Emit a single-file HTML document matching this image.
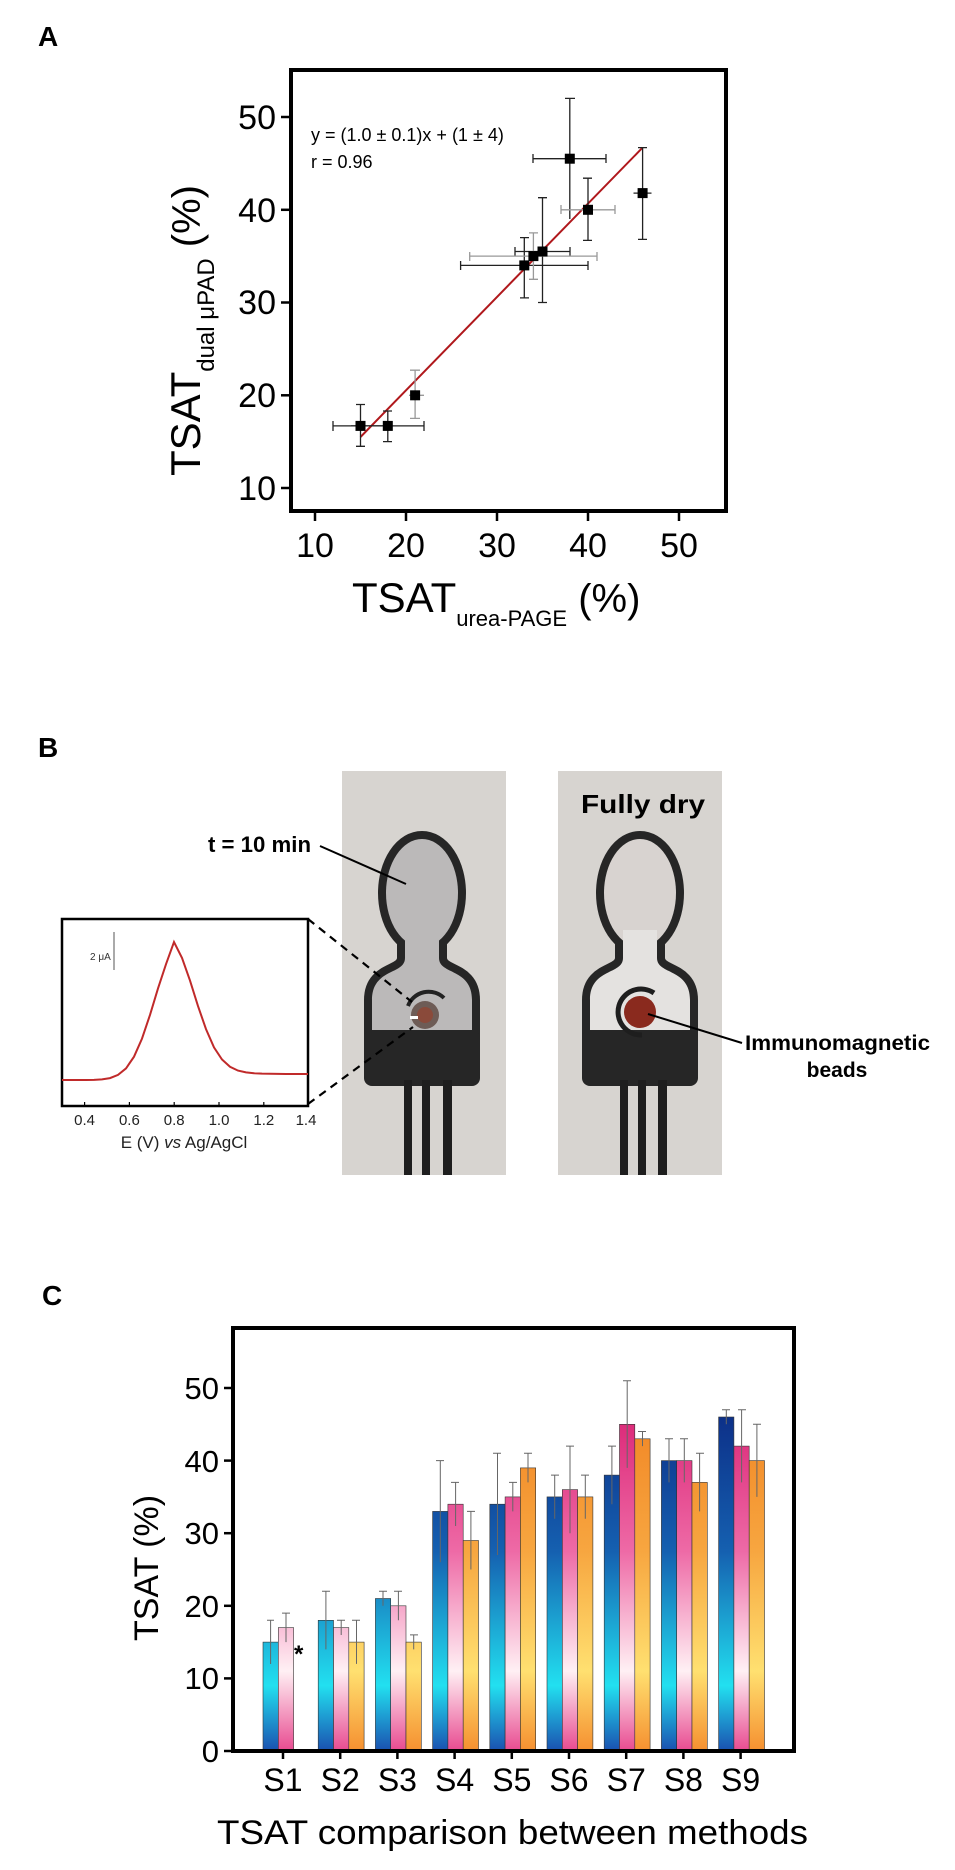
<!DOCTYPE html>
<html><head><meta charset="utf-8">
<style>
html,body{margin:0;padding:0;background:#fff;}
svg{display:block;}
text{font-family:"Liberation Sans",Arial,sans-serif;}
</style></head>
<body>
<svg width="955" height="1870" viewBox="0 0 955 1870" xmlns="http://www.w3.org/2000/svg">
<defs>
<linearGradient id="gb" gradientUnits="userSpaceOnUse" x1="0" y1="1388" x2="0" y2="1751">
<stop offset="0" stop-color="#0b2680"/><stop offset="0.45" stop-color="#1560b0"/><stop offset="0.82" stop-color="#22e0f0"/><stop offset="1" stop-color="#1a50b0"/></linearGradient>
<linearGradient id="gp" gradientUnits="userSpaceOnUse" x1="0" y1="1388" x2="0" y2="1751">
<stop offset="0" stop-color="#d81a6e"/><stop offset="0.45" stop-color="#ee6aa6"/><stop offset="0.78" stop-color="#fff0f4"/><stop offset="1" stop-color="#e84a90"/></linearGradient>
<linearGradient id="go" gradientUnits="userSpaceOnUse" x1="0" y1="1388" x2="0" y2="1751">
<stop offset="0" stop-color="#f08020"/><stop offset="0.45" stop-color="#f7a640"/><stop offset="0.78" stop-color="#ffe070"/><stop offset="1" stop-color="#f59030"/></linearGradient>
</defs>

<!-- ===== Panel A ===== -->
<text x="38" y="46" font-size="28" font-weight="bold">A</text>
<rect x="291" y="70" width="435" height="441" fill="none" stroke="#000" stroke-width="4"/>
<g stroke="#000" stroke-width="2.5">
<line x1="315" y1="511" x2="315" y2="521"/><line x1="406" y1="511" x2="406" y2="521"/><line x1="497" y1="511" x2="497" y2="521"/><line x1="588" y1="511" x2="588" y2="521"/><line x1="679" y1="511" x2="679" y2="521"/>
<line x1="281" y1="488" x2="291" y2="488"/><line x1="281" y1="395.3" x2="291" y2="395.3"/><line x1="281" y1="302.5" x2="291" y2="302.5"/><line x1="281" y1="209.8" x2="291" y2="209.8"/><line x1="281" y1="117" x2="291" y2="117"/>
</g>
<g font-size="34" text-anchor="middle">
<text x="315" y="557">10</text><text x="406" y="557">20</text><text x="497" y="557">30</text><text x="588" y="557">40</text><text x="679" y="557">50</text>
</g>
<g font-size="34" text-anchor="end">
<text x="276" y="500">10</text><text x="276" y="407">20</text><text x="276" y="314">30</text><text x="276" y="222">40</text><text x="276" y="129">50</text>
</g>
<text x="352" y="612" font-size="42">TSAT<tspan font-size="22" dy="14">urea-PAGE</tspan><tspan font-size="40" dy="-14"> (%)</tspan></text>
<text transform="translate(200,476) rotate(-90)" font-size="42">TSAT<tspan font-size="24" dy="14">dual μPAD</tspan><tspan font-size="40" dy="-14"> (%)</tspan></text>
<text x="311" y="141" font-size="18">y = (1.0 ± 0.1)x + (1 ± 4)</text>
<text x="311" y="168" font-size="18">r = 0.96</text>
<line x1="360.5" y1="437" x2="642.6" y2="147.6" stroke="#b0181c" stroke-width="2"/>
<g stroke-width="1.3" fill="none">
<g stroke="#222">
<path d="M360.5 446.3V404.5M356 446.3h9M356 404.5h9M333 425.9h55M333 421v10M388 421v10"/>
<path d="M387.8 441.6V411M383 441.6h9M383 411h9M351 425.9h73M424 421v10"/>
<path d="M524.3 297.9V237.6M520 297.9h9M520 237.6h9M460.6 265.4H588M460.6 261v9M588 261v9"/>
<path d="M542.5 302.5V197.7M538 302.5h9M538 197.7h9M515 251.5h55M515 247v9M570 247v9"/>
<path d="M569.8 219V98.4M565 98.4h10M533 158.7h73M533 154v9M606 154v9"/>
<path d="M642.6 239.4V147.6M638 239.4h9M638 147.6h9M633.5 193.1h18"/>
<path d="M588 240.4V178.2M583 240.4h9M583 178.2h9"/>
</g>
<g stroke="#999">
<path d="M415.1 418.4V370.2M410 418.4h10M410 370.2h10M409 395.3h15"/>
<path d="M533.4 279.3V232.9M529 279.3h9M529 232.9h9M469.7 256.1H597M469.7 252v9M597 252v9"/>
<path d="M561 209.8h54M561 205v9M615 205v9"/>
</g>
</g>
<g fill="#000">
<rect x="355.5" y="420.9" width="10" height="10"/><rect x="382.8" y="420.9" width="10" height="10"/><rect x="410.1" y="390.3" width="10" height="10"/>
<rect x="519.3" y="260.4" width="10" height="10"/><rect x="528.4" y="251.1" width="10" height="10"/><rect x="537.5" y="246.5" width="10" height="10"/>
<rect x="564.8" y="153.7" width="10" height="10"/><rect x="583" y="204.8" width="10" height="10"/><rect x="637.6" y="188.1" width="10" height="10"/>
</g>

<!-- ===== Panel B ===== -->
<text x="38" y="757" font-size="28" font-weight="bold">B</text>
<rect x="342" y="771" width="164" height="404" fill="#d7d4d0"/>
<rect x="558" y="771" width="164" height="404" fill="#d7d4d0"/>
<!-- device 1 -->
<g transform="translate(422,0)">
<g stroke="#262626" stroke-width="16" stroke-linejoin="round" fill="#262626">
<ellipse cx="0" cy="893" rx="36" ry="54"/>
<rect x="-17" y="930" width="34" height="50"/>
<path d="M-17 958 C-17 975 -50 968 -50 1000 L-50 1070 Q-50 1078 -42 1078 L42 1078 Q50 1078 50 1070 L50 1000 C50 968 17 975 17 958 Z"/>
</g>
<g fill="#bbb9b9">
<ellipse cx="0" cy="893" rx="36" ry="54"/>
<rect x="-17" y="930" width="34" height="50"/>
<path d="M-17 958 C-17 975 -50 968 -50 1000 L-50 1070 Q-50 1078 -42 1078 L42 1078 Q50 1078 50 1070 L50 1000 C50 968 17 975 17 958 Z"/>
</g>
<rect x="-58" y="1030" width="116" height="56" rx="8" fill="#262626"/>
<rect x="-18" y="1080" width="8" height="95" fill="#1e1e1e"/>
<rect x="0" y="1080" width="8" height="95" fill="#1e1e1e"/>
<rect x="21" y="1080" width="9" height="95" fill="#1e1e1e"/>
<path d="M-14 1006 A22 22 0 0 1 22 998" stroke="#222" stroke-width="4" fill="none"/>
<circle cx="3" cy="1015" r="14" fill="#6e5c56"/>
<circle cx="3" cy="1015" r="8" fill="#8a4a3a"/>
<rect x="-12" y="1016" width="8" height="3" fill="#fff"/>
</g>
<!-- device 2 -->
<g transform="translate(640,0)">
<g stroke="#262626" stroke-width="16" stroke-linejoin="round" fill="#262626">
<ellipse cx="0" cy="893" rx="36" ry="54"/>
<rect x="-17" y="930" width="34" height="50"/>
<path d="M-17 958 C-17 975 -50 968 -50 1000 L-50 1070 Q-50 1078 -42 1078 L42 1078 Q50 1078 50 1070 L50 1000 C50 968 17 975 17 958 Z"/>
</g>
<g fill="#e4e2e0">
<ellipse cx="0" cy="893" rx="36" ry="54" fill="#d8d3d0"/>
<rect x="-17" y="930" width="34" height="50"/>
<path d="M-17 958 C-17 975 -50 968 -50 1000 L-50 1070 Q-50 1078 -42 1078 L42 1078 Q50 1078 50 1070 L50 1000 C50 968 17 975 17 958 Z"/>
</g>
<rect x="-58" y="1030" width="116" height="56" rx="8" fill="#262626"/>
<rect x="-20" y="1080" width="8" height="95" fill="#1e1e1e"/>
<rect x="-2" y="1080" width="8" height="95" fill="#1e1e1e"/>
<rect x="18" y="1080" width="9" height="95" fill="#1e1e1e"/>
<path d="M14 993 A23 23 0 1 0 2 1035" stroke="#1e1e1e" stroke-width="5" fill="none"/>
<circle cx="0" cy="1012" r="16" fill="#8a2a1e"/>
</g>
<text x="581" y="813" font-size="26" font-weight="bold" textLength="124" lengthAdjust="spacingAndGlyphs">Fully dry</text>
<text x="208" y="852" font-size="22" font-weight="bold" textLength="103" lengthAdjust="spacingAndGlyphs">t = 10 min</text>
<line x1="320" y1="846" x2="406" y2="884" stroke="#000" stroke-width="2"/>
<line x1="648" y1="1014" x2="742" y2="1043" stroke="#000" stroke-width="2"/>
<text x="745" y="1050" font-size="21" font-weight="bold" textLength="185" lengthAdjust="spacingAndGlyphs">Immunomagnetic</text>
<text x="837" y="1077" font-size="21" font-weight="bold" text-anchor="middle">beads</text>
<!-- inset -->
<rect x="62" y="919" width="246" height="187" fill="#fff" stroke="#000" stroke-width="2.5"/>
<path d="M308 919 L412 1002 M308 1104 L413 1027" stroke="#000" stroke-width="2.2" stroke-dasharray="8,6" fill="none"/>
<polyline fill="none" stroke="#c02a2a" stroke-width="2" points="62,1080 70,1080 78,1080 86,1080 94,1079.9 102,1079.4 110,1078.1 118,1074.9 126,1068.4 134,1056.7 142,1038.6 150,1014.9 158,988.4 166,964.2 174,942 182,957.9 190,980.6 198,1006.1 206,1029.1 214,1047.4 222,1059.5 230,1066.8 238,1070.6 246,1072.4 254,1073.2 262,1073.6 270,1073.8 278,1073.9 286,1074 294,1074 302,1074 308,1074"/>
<g font-size="15" text-anchor="middle" fill="#222">
<text x="84.6" y="1125">0.4</text><text x="129.4" y="1125">0.6</text><text x="174.2" y="1125">0.8</text><text x="219" y="1125">1.0</text><text x="263.8" y="1125">1.2</text><text x="306" y="1125">1.4</text>
</g>
<g stroke="#000" stroke-width="1.2">
<line x1="84.6" y1="1106" x2="84.6" y2="1102"/><line x1="129.4" y1="1106" x2="129.4" y2="1102"/><line x1="174.2" y1="1106" x2="174.2" y2="1102"/><line x1="219" y1="1106" x2="219" y2="1102"/><line x1="263.8" y1="1106" x2="263.8" y2="1102"/>
</g>
<text x="184" y="1148" font-size="17" text-anchor="middle" fill="#222">E (V) <tspan font-style="italic">vs</tspan> Ag/AgCl</text>
<text x="90" y="960" font-size="10" fill="#333">2 μA</text>
<line x1="114" y1="932" x2="114" y2="970" stroke="#555" stroke-width="1"/>

<!-- ===== Panel C ===== -->
<text x="42" y="1305" font-size="28" font-weight="bold">C</text>
<rect x="233" y="1328" width="561" height="423" fill="none" stroke="#000" stroke-width="4"/>
<g stroke="#000" stroke-width="2.5">
<line x1="224" y1="1751" x2="233" y2="1751"/><line x1="224" y1="1678.4" x2="233" y2="1678.4"/><line x1="224" y1="1605.8" x2="233" y2="1605.8"/><line x1="224" y1="1533.2" x2="233" y2="1533.2"/><line x1="224" y1="1460.6" x2="233" y2="1460.6"/><line x1="224" y1="1388" x2="233" y2="1388"/>
</g>
<g font-size="31" text-anchor="end">
<text x="219" y="1762">0</text><text x="219" y="1689">10</text><text x="219" y="1617">20</text><text x="219" y="1544">30</text><text x="219" y="1472">40</text><text x="219" y="1399">50</text>
</g>
<text transform="translate(158,1568) rotate(-90)" font-size="34" text-anchor="middle">TSAT (%)</text>
<g stroke="#333" stroke-width="0.6">
<rect x="263" y="1642.1" width="15.3" height="108.9" fill="url(#gb)"/>
<rect x="278.3" y="1627.6" width="15.3" height="123.4" fill="url(#gp)"/>
<rect x="318.2" y="1620.3" width="15.3" height="130.7" fill="url(#gb)"/>
<rect x="333.5" y="1627.6" width="15.3" height="123.4" fill="url(#gp)"/>
<rect x="348.8" y="1642.1" width="15.3" height="108.9" fill="url(#go)"/>
<rect x="375.4" y="1598.5" width="15.3" height="152.5" fill="url(#gb)"/>
<rect x="390.7" y="1605.8" width="15.3" height="145.2" fill="url(#gp)"/>
<rect x="406" y="1642.1" width="15.3" height="108.9" fill="url(#go)"/>
<rect x="432.6" y="1511.4" width="15.3" height="239.6" fill="url(#gb)"/>
<rect x="447.9" y="1504.2" width="15.3" height="246.8" fill="url(#gp)"/>
<rect x="463.2" y="1540.5" width="15.3" height="210.5" fill="url(#go)"/>
<rect x="489.8" y="1504.2" width="15.3" height="246.8" fill="url(#gb)"/>
<rect x="505.1" y="1496.9" width="15.3" height="254.1" fill="url(#gp)"/>
<rect x="520.4" y="1467.9" width="15.3" height="283.1" fill="url(#go)"/>
<rect x="547" y="1496.9" width="15.3" height="254.1" fill="url(#gb)"/>
<rect x="562.3" y="1489.6" width="15.3" height="261.4" fill="url(#gp)"/>
<rect x="577.6" y="1496.9" width="15.3" height="254.1" fill="url(#go)"/>
<rect x="604.2" y="1475.1" width="15.3" height="275.9" fill="url(#gb)"/>
<rect x="619.5" y="1424.3" width="15.3" height="326.7" fill="url(#gp)"/>
<rect x="634.8" y="1438.8" width="15.3" height="312.2" fill="url(#go)"/>
<rect x="661.4" y="1460.6" width="15.3" height="290.4" fill="url(#gb)"/>
<rect x="676.7" y="1460.6" width="15.3" height="290.4" fill="url(#gp)"/>
<rect x="692" y="1482.4" width="15.3" height="268.6" fill="url(#go)"/>
<rect x="718.6" y="1417" width="15.3" height="334" fill="url(#gb)"/>
<rect x="733.9" y="1446.1" width="15.3" height="304.9" fill="url(#gp)"/>
<rect x="749.2" y="1460.6" width="15.3" height="290.4" fill="url(#go)"/>
</g>
<g stroke="#666" stroke-width="1" fill="none">
<path d="M270.6 1620.3V1664M267 1620.3h7M286 1613.1V1642.1M282 1613.1h8"/>
<path d="M325.9 1591.3V1649.4M322 1591.3h8M341.2 1620.3V1635M337 1620.3h8M356.5 1620.3V1663.9M352 1620.3h8"/>
<path d="M383 1591.3V1605.8M379 1591.3h8M398.4 1591.3V1620.3M394 1591.3h8M413.7 1634.9V1649.4M410 1634.9h8"/>
<path d="M440.3 1460.6V1562.2M436 1460.6h8M455.6 1482.4V1526M451 1482.4h8M470.9 1511.4V1569.5M467 1511.4h8"/>
<path d="M497.5 1453.3V1555M493 1453.3h8M512.8 1482.4V1511.4M509 1482.4h8M528 1453.3V1482.4M524 1453.3h8"/>
<path d="M554.7 1475.1V1518.7M551 1475.1h8M570 1446.1V1533.2M566 1446.1h8M585.3 1475.1V1518.7M581 1475.1h8"/>
<path d="M611.9 1446.1V1504.2M608 1446.1h8M627.2 1380.7V1467.9M623 1380.7h8M642.5 1431.5V1446.1M638 1431.5h8"/>
<path d="M669 1438.8V1482.4M665 1438.8h8M684.3 1438.8V1482.4M680 1438.8h8M699.6 1453.3V1511.4M696 1453.3h8"/>
<path d="M726.3 1409.8V1424.3M722 1409.8h8M741.6 1409.8V1482.4M738 1409.8h8M756.9 1424.3V1496.9M753 1424.3h8"/>
</g>
<text x="294" y="1662" font-size="24" font-weight="bold">*</text>
<line x1="233" y1="1751" x2="794" y2="1751" stroke="#000" stroke-width="4"/>
<g stroke="#000" stroke-width="2.5">
<line x1="283" y1="1751" x2="283" y2="1759"/><line x1="340.2" y1="1751" x2="340.2" y2="1759"/><line x1="397.4" y1="1751" x2="397.4" y2="1759"/><line x1="454.6" y1="1751" x2="454.6" y2="1759"/><line x1="511.8" y1="1751" x2="511.8" y2="1759"/><line x1="569" y1="1751" x2="569" y2="1759"/><line x1="626.2" y1="1751" x2="626.2" y2="1759"/><line x1="683.4" y1="1751" x2="683.4" y2="1759"/><line x1="740.6" y1="1751" x2="740.6" y2="1759"/>
</g>
<g font-size="32" text-anchor="middle">
<text x="283" y="1791">S1</text><text x="340.2" y="1791">S2</text><text x="397.4" y="1791">S3</text><text x="454.6" y="1791">S4</text><text x="511.8" y="1791">S5</text><text x="569" y="1791">S6</text><text x="626.2" y="1791">S7</text><text x="683.4" y="1791">S8</text><text x="740.6" y="1791">S9</text>
</g>
<text x="217" y="1844" font-size="34" textLength="591" lengthAdjust="spacingAndGlyphs">TSAT comparison between methods</text>
</svg>
</body></html>
